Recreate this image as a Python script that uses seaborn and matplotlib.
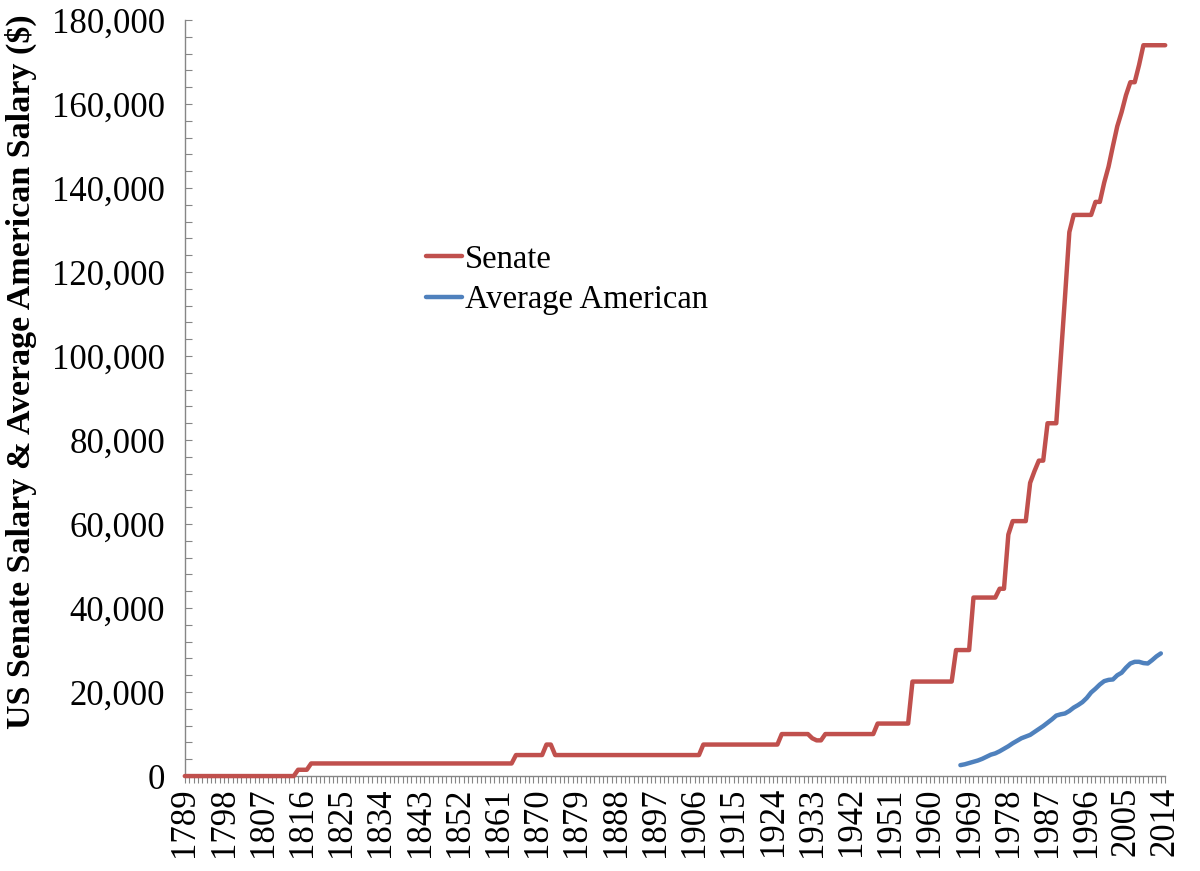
import numpy as np
import pandas as pd
import matplotlib
matplotlib.use('Agg')
import matplotlib.pyplot as plt
import seaborn as sns
from matplotlib.ticker import MultipleLocator, FixedLocator, FuncFormatter

# Senate salary: year it changed -> new salary ($), flat in between
senate_change_years = [1789, 1815, 1818, 1865, 1872, 1874, 1908, 1926, 1933, 1934,
                       1936, 1948, 1956, 1966, 1970, 1976, 1978, 1979, 1983, 1984,
                       1985, 1987, 1990, 1991, 1992, 1993, 1998, 2000, 2001, 2002,
                       2003, 2004, 2005, 2006, 2008, 2009]
senate_change_values = [0, 1500, 3000, 5000, 7500, 5000, 7500, 10000, 9000, 8500,
                        10000, 12500, 22500, 30000, 42500, 44600, 57500, 60700, 69800, 72600,
                        75100, 84000, 99000, 114000, 129500, 133600, 136700, 141300, 145100, 150000,
                        154700, 158100, 162100, 165200, 169300, 174000]

# Average American salary, 1967-2013 ($)
avg_years = list(range(1967, 2014))
avg_values = [2600, 2800, 3100, 3400, 3700, 4100, 4600, 5100, 5400, 5900,
              6500, 7100, 7800, 8400, 9000, 9400, 9800, 10500, 11200, 11900,
              12700, 13500, 14400, 14700, 14900, 15500, 16300, 16900, 17600, 18600,
              19900, 20800, 21800, 22600, 22900, 23000, 24000, 24600, 25800, 26800,
              27200, 27200, 26900, 26800, 27600, 28500, 29200]

first_year, last_year = 1789, 2014
red = '#C0504D'
blue = '#4F81BD'
grey = '#868686'

senate = (pd.Series(senate_change_values, index=senate_change_years)
          .reindex(range(first_year, last_year + 1)).ffill())

df = pd.concat([
    pd.DataFrame({'Year': senate.index, 'Salary': senate.values, 'Series': 'Senate'}),
    pd.DataFrame({'Year': avg_years, 'Salary': avg_values, 'Series': 'Average American'}),
])

sns.set_style('white')
plt.rcParams['font.family'] = ['Liberation Serif', 'DejaVu Serif']
plt.rcParams['text.color'] = 'black'
plt.rcParams['axes.labelcolor'] = 'black'

fig = plt.figure(figsize=(12, 8.71), dpi=100)
ax = fig.add_axes([0.154, 0.109, 0.817, 0.868])

sns.lineplot(data=df, x='Year', y='Salary', hue='Series', palette=[red, blue],
             linewidth=3.2, ax=ax, solid_capstyle='round', solid_joinstyle='round')
for ln in ax.lines:
    ln.set_clip_on(False)
    ln.set_zorder(5)

ax.set_xlim(first_year, last_year)
ax.set_ylim(0, 180000)

for s in ['top', 'right']:
    ax.spines[s].set_visible(False)
for s in ['left', 'bottom']:
    ax.spines[s].set_color(grey)
    ax.spines[s].set_linewidth(1.0)

ax.xaxis.set_major_locator(FixedLocator(list(range(first_year, last_year + 1, 9))))
ax.xaxis.set_minor_locator(MultipleLocator(1))
ax.yaxis.set_major_locator(MultipleLocator(20000))
ax.yaxis.set_minor_locator(MultipleLocator(4000))
ax.yaxis.set_major_formatter(FuncFormatter(lambda v, p: f'{int(v):,}'))

ax.tick_params(axis='x', which='both', direction='out', length=5, width=0.8,
               color=grey, labelsize=25, pad=3, labelrotation=90, bottom=True,
               labelcolor='black')
ax.tick_params(axis='y', which='both', direction='in', length=5, width=0.8,
               color=grey, labelsize=25, pad=14, left=True, labelcolor='black')

ax.set_xlabel('')
ax.set_ylabel('US Senate Salary & Average American Salary ($)', fontsize=24.5,
              fontweight='bold', color='black')
ax.yaxis.set_label_coords(-0.151, 0.535)

handles, labels = ax.get_legend_handles_labels()
ax.legend(handles, labels, loc='upper left', bbox_to_anchor=(0.229, 0.725),
          frameon=False, fontsize=23.5, handlelength=1.1, handletextpad=0.1,
          labelspacing=0.3, borderpad=0, labelcolor='black')

fig.savefig('out.png', dpi=100)
